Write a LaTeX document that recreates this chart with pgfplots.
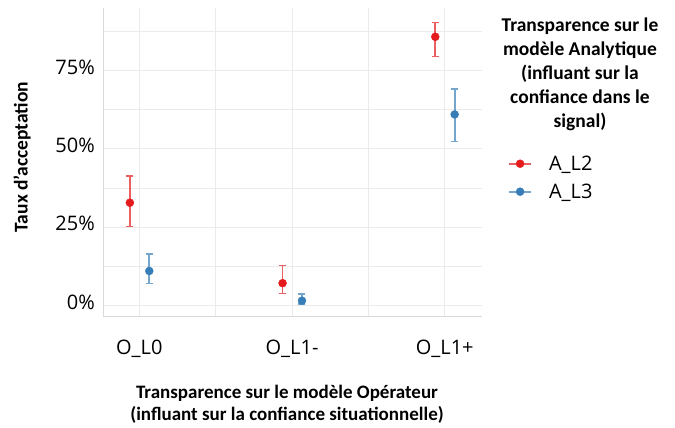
\documentclass[border=0pt]{standalone}
\usepackage{pgfplots}
\pgfplotsset{compat=1.18}
\usepackage{fontspec}
\setmainfont{Carlito}
\newfontfamily\osans{Open Sans}
\definecolor{cred}{HTML}{E41A1C}
\definecolor{cblue}{HTML}{377EB8}
\definecolor{gridc}{HTML}{EBEBEB}
\definecolor{axc}{HTML}{D9D9D9}

\pgfplotstableread{
x y ep em
-0.062 32.8 8.5 7.6
0.938 7.1 5.7 3.3
1.938 85.8 4.6 6.3
}\redtab
\pgfplotstableread{
x y ep em
0.065 11.0 5.4 4.0
1.065 1.5 2.2 1.0
2.065 61.0 8.1 8.7
}\bluetab

\begin{document}
\begin{tikzpicture}[x=1pt,y=1pt]
\useasboundingbox (0,0) rectangle (675,428);
\begin{axis}[
 at={(103.3pt,111pt)}, anchor=south west,
 scale only axis, width=378.4pt, height=309pt,
 xmin=-0.236, xmax=2.242, ymin=-3.7, ymax=95,
 axis x line*=bottom, axis y line*=left,
 axis line style={color=axc, line width=1pt, -},
 xtick={0,1,2}, xticklabels={O\_L0,O\_L1-,O\_L1+},
 minor xtick={0.5,1.5},
 ytick={0,25,50,75}, yticklabels={0\%,25\%,50\%,75\%},
 minor ytick={12.5,37.5,62.5,87.5},
 grid=both,
 major grid style={gridc, line width=1pt},
 minor grid style={gridc, line width=1pt},
 major tick length=0pt, minor tick length=0pt,
 tick style={draw=none},
 ticklabel style={font=\osans\fontsize{20}{24}\selectfont, text=black},
 xticklabel style={yshift=-19pt},
 yticklabel style={xshift=-5pt, yshift=3.5pt},
 clip=false,
 legend style={draw=none, fill=none, at={(rel axis cs:1.0695,0.529)}, anchor=north west,
   font=\osans\fontsize{20}{24}\selectfont, row sep=8pt, inner sep=0pt,
   /tikz/every odd column/.append style={column sep=15pt}},
 legend cell align=left,
]
\addplot[only marks, mark=*, mark size=4pt, color=cred,
  mark options={fill=cred, draw=cred},
  legend image code/.code={\draw[cred!70, line width=1.8pt] (0pt,0pt) -- (22pt,0pt);
     \fill[cred] (11pt,0pt) circle (4pt);},
  error bars/.cd, y dir=both, y explicit, error mark=|,
  error bar style={color=cred!70, line width=1.8pt},
  error mark options={color=cred!70, line width=1.5pt, mark size=3.5pt}]
  table[x=x, y=y, y error plus=ep, y error minus=em] {\redtab};
\addlegendentry{A\_L2}
\addplot[only marks, mark=*, mark size=4pt, color=cblue,
  mark options={fill=cblue, draw=cblue},
  legend image code/.code={\draw[cblue!70, line width=1.8pt] (0pt,0pt) -- (22pt,0pt);
     \fill[cblue] (11pt,0pt) circle (4pt);},
  error bars/.cd, y dir=both, y explicit, error mark=|,
  error bar style={color=cblue!70, line width=1.8pt},
  error mark options={color=cblue!70, line width=1.5pt, mark size=3.5pt}]
  table[x=x, y=y, y error plus=ep, y error minus=em] {\bluetab};
\addlegendentry{A\_L3}
\end{axis}
\node[rotate=90, font=\bfseries\fontsize{19.5}{22}\selectfont] at (22,271) {Taux d’acceptation};
\node[align=center, font=\bfseries\fontsize{19}{22}\selectfont] at (287,24)
  {Transparence sur le modèle Opérateur\\(influant sur la confiance situationnelle)};
\node[align=center, font=\bfseries\fontsize{19.5}{24}\selectfont] at (580,354)
  {Transparence sur le\\modèle Analytique\\(influant sur la\\confiance dans le\\signal)};
\end{tikzpicture}
\end{document}
